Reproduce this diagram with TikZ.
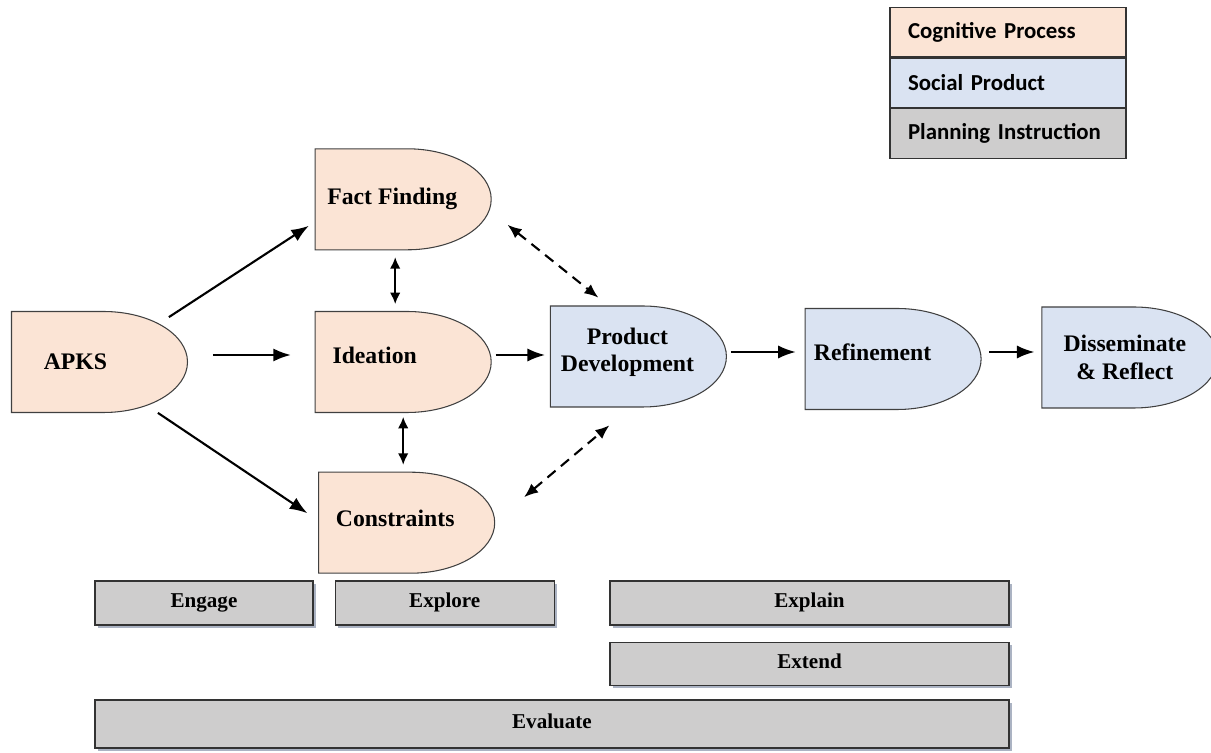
\documentclass[tikz,border=0pt]{standalone}
\usepackage{fontspec}
\setmainfont{Liberation Serif}
\newfontfamily\legendfont{Carlito}
\usetikzlibrary{arrows.meta,positioning,shadows}
\definecolor{cogfill}{RGB}{251,228,213}
\definecolor{socfill}{RGB}{218,227,242}
\definecolor{planfill}{RGB}{206,205,205}
\definecolor{shadowcol}{RGB}{150,160,180}
\tikzset{
  dshape/.style   ={path picture={
                      \filldraw[fill=#1,draw=black!75,line width=0.6pt]
                        ([shift={(-1.76,1.01)}]path picture bounding box.center)
                        -- ++(1.84,0)
                        arc[start angle=90,end angle=-90,x radius=1.68,y radius=1.01]
                        -- ++(-1.84,0) -- cycle;}},
  cognode/.style  ={minimum width=3.56cm,minimum height=2.06cm,inner sep=0pt,dshape=cogfill},
  socnode/.style  ={minimum width=3.56cm,minimum height=2.06cm,inner sep=0pt,dshape=socfill},
  dtext/.style    ={align=center,font=\bfseries\fontsize{13.5}{15.5}\selectfont},
  phase/.style    ={rectangle,draw=black!80,line width=0.7pt,fill=planfill,minimum height=0.88cm,
                    text height=1.6ex,text depth=0.5ex,
                    font=\bfseries\fontsize{12}{14}\selectfont,
                    drop shadow={shadow xshift=0.06cm,shadow yshift=-0.06cm,fill=shadowcol,opacity=0.8}},
  legend/.style   ={rectangle,draw=black!80,line width=0.7pt,minimum width=4.72cm,minimum height=0.99cm,
                    text width=4.0cm,align=left,font=\legendfont\bfseries\fontsize{13}{15}\selectfont},
  arr/.style      ={-{Latex[length=10pt,width=7.5pt]},line width=1.2pt},
  darr/.style     ={{Latex[length=6.5pt,width=6pt]}-{Latex[length=6.5pt,width=6pt]},line width=1.2pt},
  dasharr/.style  ={{Latex[length=8pt,width=6.5pt]}-{Latex[length=8pt,width=6.5pt]},line width=1.2pt,
                    dash pattern=on 6pt off 4pt}
}
\begin{document}
\begin{tikzpicture}
  \useasboundingbox (0,0) rectangle (24.22,15.04);

  % Legend
  \node (lcog)  [legend,fill=cogfill]  at (20.16,14.4) {Cognitive Process};
  \node (lsoc)  [legend,fill=socfill,below=0pt of lcog]  {Social Product};
  \node (lplan) [legend,fill=planfill,below=0pt of lsoc] {Planning Instruction};

  % Nodes
  \node (apks) [cognode,label={[dtext,xshift=-0.48cm]center:APKS}] at (1.99,7.80) {};
  \node (idea) [cognode,right=2.5cm of apks,label={[dtext,xshift=-0.57cm,yshift=0.14cm]center:Ideation}] {};
  \node (ff)   [cognode,above=1.18cm of idea,label={[dtext,xshift=-0.22cm]center:Fact Finding}] {};
  \node (cons) [cognode,below=1.14cm of idea,xshift=0.07cm,label={[dtext,xshift=-0.23cm,yshift=0.09cm]center:Constraints}] {};
  \node (pd)   [socnode,right=1.13cm of idea,yshift=0.11cm,label={[dtext,xshift=-0.22cm,yshift=0.09cm]center:Product\\Development}] {};
  \node (ref)  [socnode,right=1.52cm of pd,yshift=-0.05cm,label={[dtext,xshift=-0.41cm,yshift=0.14cm]center:Refinement}] {};
  \node (dis)  [socnode,right=1.16cm of ref,yshift=0.03cm,label={[dtext,xshift=-0.1cm]center:Disseminate\\\& Reflect}] {};

  % Phases
  \node (engage)   [phase,minimum width=4.36cm] at (4.08,2.98) {Engage};
  \node (explore)  [phase,minimum width=4.38cm,right=0.42cm of engage] {Explore};
  \node (explain)  [phase,minimum width=7.98cm] at (16.19,2.98) {Explain};
  \node (extend)   [phase,minimum width=7.98cm,minimum height=0.86cm,below=0.32cm of explain] {Extend};
  \node (evaluate) [phase,minimum width=18.28cm,minimum height=0.96cm] at (11.04,0.56) {Evaluate};

  % Arrows
  \draw [arr] ([shift={(-0.4,-0.14)}]apks.north east) -- ([shift={(-0.1,-0.53)}]ff.west);
  \draw [arr,shorten <=0.48cm,shorten >=0.46cm] ([yshift=0.14cm]apks.east) -- ([yshift=0.14cm]idea.west);
  \draw [arr] ([shift={(-0.62,0.02)}]apks.south east) -- ([shift={(-0.2,0.19)}]cons.west);
  \draw [darr,shorten <=0.12cm,shorten >=0.12cm] ([xshift=-0.16cm]ff.south) -- ([xshift=-0.16cm]ff.south |- idea.north);
  \draw [darr,shorten <=0.06cm,shorten >=0.12cm] (idea.south) -- (idea.south |- cons.north);
  \draw [arr,shorten <=0.06cm,shorten >=0.08cm] ([yshift=0.14cm]idea.east) -- ([yshift=0.14cm]idea.east -| pd.west);
  \draw [dasharr] ([shift={(0.3,-0.51)}]ff.east) -- ([shift={(-0.8,0.14)}]pd.north);
  \draw [dasharr] ([shift={(0.56,0.51)}]cons.east) -- ([shift={(-0.58,-0.34)}]pd.south);
  \draw [arr,shorten <=0.06cm,shorten >=0.16cm] ([yshift=0.09cm]pd.east) -- ([yshift=0.09cm]pd.east -| ref.west);
  \draw [arr,shorten <=0.14cm,shorten >=0.12cm] ([yshift=0.14cm]ref.east) -- ([yshift=0.14cm]ref.east -| dis.west);
\end{tikzpicture}
\end{document}
